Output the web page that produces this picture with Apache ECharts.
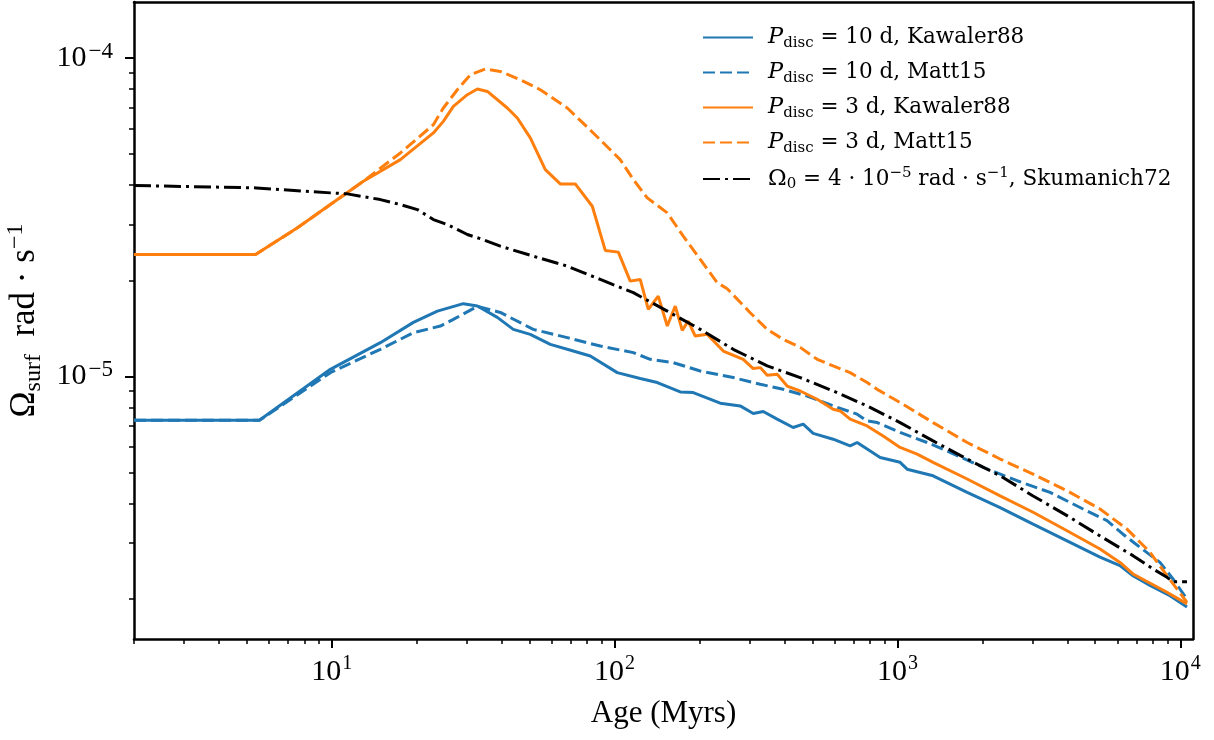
<!DOCTYPE html>
<html><head><meta charset="utf-8">
<script src="https://cdn.jsdelivr.net/npm/echarts@6/dist/echarts.min.js"></script>
<style>html,body{margin:0;padding:0;background:#fff}#c{width:1214px;height:740px}</style>
</head><body><div id="c"></div>
<script>
// ---- data (age in Myr, surface angular velocity in rad/s) ----
const ageBlueKaw = [2.0,5.55,9.89,14.86,19.44,23.64,29.2,32.73,38.5,43.85,50.36,59.27,71.45,82.07,102.2,123.2,141.6,170.7,189.7,236.4,278.1,309.2,335.4,375.7,427.9,464.3,503.6,592.7,680.5,720.3,781.5,868.8,1022,1082,1337,1764,2307,3017,3978,5203,6121,6805,7815,9197,10560];
const omegaBlueKaw = [7.29e-6,7.29e-6,1.054e-5,1.278e-5,1.480e-5,1.605e-5,1.694e-5,1.665e-5,1.534e-5,1.407e-5,1.357e-5,1.262e-5,1.203e-5,1.160e-5,1.029e-5,9.86e-6,9.58e-6,8.95e-6,8.91e-6,8.25e-6,8.09e-6,7.66e-6,7.77e-6,7.35e-6,6.92e-6,7.09e-6,6.63e-6,6.36e-6,6.06e-6,6.21e-6,5.92e-6,5.57e-6,5.38e-6,5.12e-6,4.88e-6,4.33e-6,3.88e-6,3.44e-6,3.05e-6,2.71e-6,2.55e-6,2.37e-6,2.21e-6,2.05e-6,1.89e-6];

const ageBlueMatt = [2.0,5.55,9.89,14.86,19.44,24.22,26.92,32.73,39.45,51.6,68.05,89.04,116.5,133.7,161.3,200.9,262.7,327.3,394.5,479.6,592.7,720.3,781.5,847.9,1022,1273,1536,2009,2649,3464,4531,5508,6274,7203,8477,9423,10560];
const omegaBlueMatt = [7.29e-6,7.29e-6,1.029e-5,1.218e-5,1.374e-5,1.441e-5,1.512e-5,1.661e-5,1.590e-5,1.407e-5,1.325e-5,1.247e-5,1.189e-5,1.133e-5,1.106e-5,1.041e-5,9.93e-6,9.46e-6,9.12e-6,8.69e-6,8.09e-6,7.62e-6,7.26e-6,7.17e-6,6.68e-6,6.21e-6,5.78e-6,5.19e-6,4.71e-6,4.33e-6,3.84e-6,3.53e-6,3.20e-6,2.91e-6,2.61e-6,2.315e-6,2.00e-6];

const ageOrangeKaw = [2.0,5.38,7.565,9.89,12.94,17.49,22.88,24.81,26.92,30.17,32.73,35.51,41.77,45.31,50.36,56.9,64.28,72.61,83.42,92.7,103.1,113.6,123.2,131.6,142.7,153.6,163.9,173.5,182.1,192.8,212.7,242.2,285,309.2,327.3,346.5,375.7,407.5,453.1,520.3,592.7,627.4,680.5,781.5,890.3,1022,1174,1337,1764,2307,3017,3978,5203,6121,6805,8975,10560];
const omegaOrangeKaw = [2.417e-5,2.417e-5,2.931e-5,3.468e-5,4.105e-5,4.800e-5,5.820e-5,6.328e-5,7.053e-5,7.674e-5,7.994e-5,7.857e-5,6.972e-5,6.485e-5,5.614e-5,4.465e-5,4.027e-5,4.027e-5,3.426e-5,2.489e-5,2.459e-5,1.994e-5,2.018e-5,1.626e-5,1.789e-5,1.441e-5,1.665e-5,1.397e-5,1.494e-5,1.341e-5,1.357e-5,1.203e-5,1.133e-5,1.060e-5,1.067e-5,1.009e-5,1.017e-5,9.34e-6,9.01e-6,8.49e-6,7.90e-6,7.80e-6,7.35e-6,7.00e-6,6.51e-6,5.99e-6,5.71e-6,5.38e-6,4.77e-6,4.22e-6,3.75e-6,3.28e-6,2.874e-6,2.61e-6,2.40e-6,2.103e-6,1.933e-6];

const ageOrangeMatt = [2.0,5.38,7.565,9.89,12.94,17.49,22.88,24.81,27.81,30.92,34.93,39.45,46.43,54.64,68.05,84.09,104.7,116.5,130.5,153.6,174.9,200.9,230.7,250.2,301.7,346.5,394.5,453.1,520.3,592.7,680.5,781.5,847.9,1022,1337,1764,2307,3017,3978,5203,6481,7815,8975,10560];
const omegaOrangeMatt = [2.417e-5,2.417e-5,2.931e-5,3.468e-5,4.105e-5,5.037e-5,6.178e-5,6.972e-5,7.954e-5,8.866e-5,9.237e-5,9.078e-5,8.551e-5,7.954e-5,6.972e-5,5.820e-5,4.800e-5,4.155e-5,3.640e-5,3.267e-5,2.759e-5,2.332e-5,1.971e-5,1.887e-5,1.587e-5,1.407e-5,1.309e-5,1.235e-5,1.133e-5,1.080e-5,1.029e-5,9.58e-6,9.12e-6,8.29e-6,7.17e-6,6.21e-6,5.51e-6,4.94e-6,4.38e-6,3.84e-6,3.32e-6,2.81e-6,2.37e-6,1.956e-6];

const ageSkum = [2.0,5.42,9.89,11.36,14.86,17.49,20.09,22.88,25.63,30.17,33.54,39.45,51.6,68.05,89.04,116.5,153.6,200.9,262.7,346.5,453.1,592.7,781.5,1022,1337,1764,2307,3017,3978,5203,6805,8008,8975,9423,10560];
const omegaSkum = [3.98e-5,3.912e-5,3.774e-5,3.747e-5,3.595e-5,3.468e-5,3.345e-5,3.112e-5,3.002e-5,2.793e-5,2.71e-5,2.567e-5,2.388e-5,2.222e-5,2.018e-5,1.834e-5,1.605e-5,1.407e-5,1.218e-5,1.080e-5,9.93e-6,9.01e-6,8.09e-6,7.17e-6,6.28e-6,5.51e-6,4.88e-6,4.22e-6,3.66e-6,3.16e-6,2.74e-6,2.49e-6,2.344e-6,2.27e-6,2.27e-6];

// ---- axes ----
const xRange = [2.0, 11090];
const yRange = [1.5e-6, 1.5e-4];
const xMajorExp = [1, 2, 3, 4];
const yMajorExp = [-5, -4];

const L = Math.log10;
function minorTicks(lo, hi) {
  const out = [];
  for (let e = Math.floor(L(lo)); e <= Math.ceil(L(hi)); e++) {
    for (let k = 2; k <= 9; k++) {
      const v = k * Math.pow(10, e);
      if (v >= lo - 1e-12 && v <= hi) out.push(L(v));
    }
  }
  return out;
}
const TF = 'Liberation Serif';
const expLabel = v => '{base|10}{exp|' + String(Math.round(v)).replace('-', '\u2212') + '}';
const xTickRich = {
  base: { fontFamily: TF, fontSize: 30, lineHeight: 36, color: '#000' },
  exp: { fontFamily: TF, fontSize: 20, lineHeight: 17, verticalAlign: 'top', padding: [0, 0, 0, 1], color: '#000' }
};
const yTickRich = {
  base: { fontFamily: TF, fontSize: 30, lineHeight: 36, color: '#000' },
  exp: { fontFamily: TF, fontSize: 23, lineHeight: 18, verticalAlign: 'top', padding: [0, 0, 0, 2], color: '#000' }
};
const spine = { show: true, onZero: false, lineStyle: { color: '#000', width: 2.5 } };

function xAxes() {
  const base = { type: 'value', min: L(xRange[0]), max: L(xRange[1]), splitLine: { show: false } };
  return [
    Object.assign({}, base, {
      position: 'bottom', axisLine: spine,
      axisTick: { show: true, customValues: xMajorExp, length: 9, lineStyle: { color: '#000', width: 2 } },
      axisLabel: { show: true, customValues: xMajorExp, margin: 15, fontFamily: TF, fontSize: 30, color: '#000', formatter: expLabel, rich: xTickRich },
      name: 'Age (Myrs)', nameLocation: 'middle', nameGap: 59,
      nameTextStyle: { fontFamily: TF, fontSize: 31, color: '#000' }
    }),
    Object.assign({}, base, {
      position: 'bottom', axisLine: { show: false },
      axisTick: { show: true, customValues: minorTicks(xRange[0], xRange[1]), length: 5, lineStyle: { color: '#000', width: 1.5 } },
      axisLabel: { show: false }
    }),
    Object.assign({}, base, {
      position: 'top', axisLine: spine, axisTick: { show: false }, axisLabel: { show: false }
    })
  ];
}
function yAxes() {
  const base = { type: 'value', min: L(yRange[0]), max: L(yRange[1]), splitLine: { show: false } };
  return [
    Object.assign({}, base, {
      position: 'left', axisLine: spine,
      axisTick: { show: true, customValues: yMajorExp, length: 9, lineStyle: { color: '#000', width: 2 } },
      axisLabel: { show: true, customValues: yMajorExp, margin: 21, fontFamily: TF, fontSize: 30, color: '#000', formatter: expLabel, rich: yTickRich },
      name: '{a|\u03A9}{sub|surf}{a|  rad \u00B7 s}{sup|\u22121}',
      nameLocation: 'middle', nameRotate: 90, nameGap: 86,
      nameTextStyle: {
        color: '#000', fontFamily: TF, fontSize: 35,
        rich: {
          a: { fontFamily: TF, fontSize: 35, lineHeight: 42, color: '#000' },
          sub: { fontFamily: TF, fontSize: 24, lineHeight: 16, verticalAlign: 'bottom', color: '#000' },
          sup: { fontFamily: TF, fontSize: 24, lineHeight: 16, verticalAlign: 'top', color: '#000' }
        }
      }
    }),
    Object.assign({}, base, {
      position: 'left', axisLine: { show: false },
      axisTick: { show: true, customValues: minorTicks(yRange[0], yRange[1]), length: 5, lineStyle: { color: '#000', width: 1.5 } },
      axisLabel: { show: false }
    }),
    Object.assign({}, base, {
      position: 'right', axisLine: spine, axisTick: { show: false }, axisLabel: { show: false }
    })
  ];
}

const BLUE = '#1f77b4', ORANGE = '#ff7f0e';
const DASH = [12, 5], DASHDOT = [17, 5, 3, 5];
function mk(name, ages, omegas, color, type) {
  return {
    name: name, type: 'line', xAxisIndex: 0, yAxisIndex: 0,
    symbol: 'none', showSymbol: false, animation: false, clip: true,
    lineStyle: { color: color, width: 3, type: type, cap: 'butt' },
    itemStyle: { color: color },
    data: ages.map((a, i) => [L(a), L(omegas[i])])
  };
}
const legendText = {
  k10: '{p|P}{sub|disc}{t| = 10 d, Kawaler88}',
  m10: '{p|P}{sub|disc}{t| = 10 d, Matt15}',
  k3: '{p|P}{sub|disc}{t| = 3 d, Kawaler88}',
  m3: '{p|P}{sub|disc}{t| = 3 d, Matt15}',
  sk: '{o|\u03A9}{sub|0}{t| = 4 \u00B7 10}{sup|\u22125}{t| rad \u00B7 s}{sup|\u22121}{t|, Skumanich72}'
};
const LF = 'DejaVu Serif';

const chart = echarts.init(document.getElementById('c'), null, { renderer: 'canvas' });
chart.setOption({
  animation: false,
  backgroundColor: '#fff',
  grid: { left: 134, right: 21, top: 2, bottom: 101, containLabel: false, outerBoundsMode: 'none' },
  xAxis: xAxes(),
  yAxis: yAxes(),
  legend: {
    orient: 'vertical', left: 697, top: 21, itemWidth: 50, itemHeight: 14, itemGap: 10.5,
    data: ['k10', 'm10', 'k3', 'm3', 'sk'],
    itemStyle: { color: 'rgba(0,0,0,0)', borderColor: 'rgba(0,0,0,0)', borderWidth: 0, opacity: 0 },
    formatter: n => legendText[n],
    textStyle: {
      color: '#000', fontFamily: LF, fontSize: 21.5,
      rich: {
        p: { fontFamily: LF, fontStyle: 'italic', fontSize: 22.5, lineHeight: 26, padding: [0, 0, 0, 10], color: '#000' },
        o: { fontFamily: LF, fontSize: 22.5, lineHeight: 26, padding: [0, 0, 0, 10], color: '#000' },
        t: { fontFamily: LF, fontSize: 21.5, lineHeight: 26, color: '#000' },
        sub: { fontFamily: LF, fontSize: 15, lineHeight: 12, verticalAlign: 'bottom', color: '#000' },
        sup: { fontFamily: LF, fontSize: 15, lineHeight: 12, verticalAlign: 'top', color: '#000' }
      }
    }
  },
  series: [
    mk('k10', ageBlueKaw, omegaBlueKaw, BLUE, 'solid'),
    mk('m10', ageBlueMatt, omegaBlueMatt, BLUE, DASH),
    mk('k3', ageOrangeKaw, omegaOrangeKaw, ORANGE, 'solid'),
    mk('m3', ageOrangeMatt, omegaOrangeMatt, ORANGE, DASH),
    mk('sk', ageSkum, omegaSkum, '#000', DASHDOT)
  ]
});
</script></body></html>
